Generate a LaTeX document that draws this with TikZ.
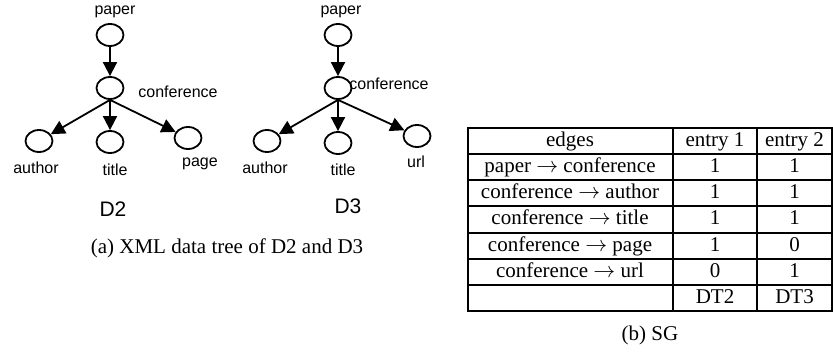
\documentclass[tikz,border=0pt]{standalone}
\usepackage{fontspec}
\setmainfont{Liberation Serif}
\newfontfamily\arialfont{Liberation Sans}
\usetikzlibrary{arrows.meta,shapes.geometric}

\begin{document}
\begin{tikzpicture}[x=0.5pt,y=-0.5pt,
    font=\fontsize{10.5}{12}\selectfont,
    elem/.style={draw,ellipse,line width=0.9pt,minimum width=13.5pt,minimum height=11pt,inner sep=0pt},
    lbl/.style={font=\arialfont\fontsize{8}{9.6}\selectfont,inner sep=0pt},
    doclbl/.style={font=\arialfont\fontsize{10.5}{12}\selectfont,inner sep=0pt},
    edge/.style={line width=0.9pt,-{Triangle[length=7pt,width=7pt]}},
    grid/.style={line width=1pt}]
                \useasboundingbox (0,0) rectangle (833,352);

                % data tree D2
                \node[elem] (p2) at (110, 35) {};
                \node[elem] (c2) at (110, 88) {};
                \node[elem] (a2) at (39, 141) {};
                \node[elem] (t2) at (110, 142) {};
                \node[elem] (g2) at (188, 138) {};
                \node[lbl] (p2l) at (115, 12) {paper};
                \node[lbl] (c2l) at (178, 92) {conference};
                \node[lbl] (a2l) at (36, 168) {author};
                \node[lbl] (t2l) at (115, 170) {title};
                \node[lbl] (g2l) at (200, 164) {page};
                \node[doclbl] (d2) at (113, 209) {D2};

                \draw[edge] (p2) -- (c2);
                \draw[edge] (c2.south) -- (a2);
                \draw[edge] (c2.south) -- (t2);
                \draw[edge] (c2.south) -- (g2);

                % data tree D3
                \node[elem] (p3) at (338, 35) {};
                \node[elem] (c3) at (338, 88) {};
                \node[elem] (a3) at (267, 141) {};
                \node[elem] (t3) at (338, 143) {};
                \node[elem] (u3) at (417, 136) {};
                \node[lbl] (p3l) at (341, 12) {paper};
                \node[lbl] (c3l) at (389, 84) {conference};
                \node[lbl] (a3l) at (265, 168) {author};
                \node[lbl] (t3l) at (343, 170) {title};
                \node[lbl] (u3l) at (416, 162) {url};
                \node[doclbl] (d3) at (348, 206) {D3};

                \draw[edge] (p3) -- (c3);
                \draw[edge] (c3.south) -- (a3);
                \draw[edge] (c3.south) -- (t3);
                \draw[edge] (c3.south) -- (u3);

                \node (capa) at (227, 248) {(a) XML data tree of D2 and D3};

                % table SG
                \draw[grid] (468, 128) rectangle (832, 311);
                \foreach \k in {1,...,6}
                    \draw[grid] (468, {128+26.14*\k}) -- (832, {128+26.14*\k});
                \draw[grid] (673, 128) -- (673, 311);
                \draw[grid] (757, 128) -- (757, 311);

                \foreach \e/\a/\b [count=\r] in {edges/entry 1/entry 2,
                        {paper $\rightarrow$ conference}/1/1,
                        {conference $\rightarrow$ author}/1/1,
                        {conference $\rightarrow$ title}/1/1,
                        {conference $\rightarrow$ page}/1/0,
                        {conference $\rightarrow$ url}/0/1,
                        {}/DT2/DT3} {
                    \node[anchor=base,inner sep=0pt] (e\r) at (570, {128+26.14*(\r-1)+18.5}) {\e};
                    \node[anchor=base,inner sep=0pt] (x\r) at (715, {128+26.14*(\r-1)+18.5}) {\a};
                    \node[anchor=base,inner sep=0pt] (y\r) at (794.5, {128+26.14*(\r-1)+18.5}) {\b};
                }

                \node (capb) at (650, 335) {(b) SG};
            \end{tikzpicture}
\end{document}
